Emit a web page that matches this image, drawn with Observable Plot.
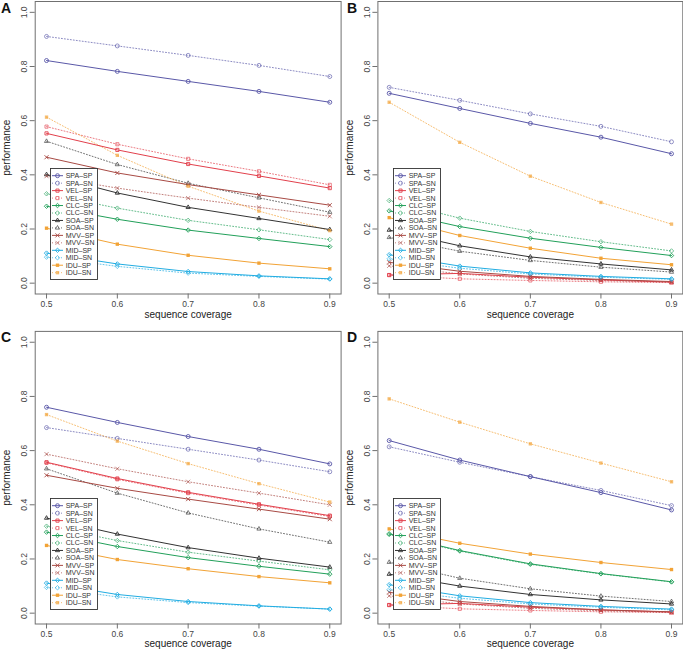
<!DOCTYPE html>
<html><head><meta charset="utf-8">
<script src="https://cdn.jsdelivr.net/npm/d3@7"></script>
<script src="https://cdn.jsdelivr.net/npm/@observablehq/plot@0.6"></script>
<style>
body{margin:0;background:#fff;}
#wrap{position:relative;width:683px;height:649px;overflow:hidden;font-family:"Liberation Sans",Arial,Helvetica,sans-serif;}
.panel{position:absolute;}
.letter{position:absolute;font-weight:bold;font-size:14px;line-height:14px;color:#111;}
.legend{position:absolute;}
</style></head><body><div id="wrap"></div>
<script>
const coverage = [0.5, 0.6, 0.7, 0.8, 0.9];
const methods = ["SPA", "VEL", "CLC", "SOA", "MVV", "MID", "IDU"];
const measures = ["SP", "SN"];
const methodColors = ["#5a58a8", "#e2404c", "#22a05a", "#333333", "#a84a44", "#22ade2", "#f2a336"];
const methodSymbols = ["circle", "square2", "diamond2", "triangle2", "times", "diamond2", "square"];
const yTicks = [0, 0.2, 0.4, 0.6, 0.8, 1.0];
const xTicks = [0.5, 0.6, 0.7, 0.8, 0.9];
const panelLabels = ["A", "B", "C", "D"];
const xTitle = "sequence coverage";
const yTitle = "performance";

// rows follow methods order: SPA, VEL, CLC, SOA, MVV, MID, IDU
const A_SP = [
  [0.822, 0.782, 0.745, 0.708, 0.668],
  [0.553, 0.492, 0.440, 0.396, 0.351],
  [0.284, 0.236, 0.196, 0.165, 0.135],
  [0.401, 0.333, 0.280, 0.239, 0.198],
  [0.465, 0.407, 0.364, 0.326, 0.288],
  [0.111, 0.071, 0.043, 0.027, 0.016],
  [0.203, 0.144, 0.103, 0.074, 0.053]
];
const A_SN = [
  [0.911, 0.876, 0.841, 0.804, 0.763],
  [0.578, 0.513, 0.459, 0.413, 0.363],
  [0.330, 0.277, 0.232, 0.197, 0.161],
  [0.524, 0.438, 0.369, 0.315, 0.262],
  [0.395, 0.351, 0.314, 0.280, 0.247],
  [0.096, 0.062, 0.037, 0.025, 0.015],
  [0.613, 0.472, 0.358, 0.266, 0.194]
];
const B_SP = [
  [0.701, 0.645, 0.590, 0.539, 0.478],
  [0.030, 0.036, 0.022, 0.012, 0.004],
  [0.267, 0.209, 0.166, 0.132, 0.102],
  [0.196, 0.138, 0.097, 0.071, 0.049],
  [0.077, 0.044, 0.025, 0.014, 0.006],
  [0.105, 0.063, 0.038, 0.025, 0.016],
  [0.242, 0.176, 0.129, 0.092, 0.068]
];
const B_SN = [
  [0.723, 0.675, 0.625, 0.579, 0.522],
  [0.030, 0.016, 0.010, 0.005, 0.002],
  [0.305, 0.240, 0.191, 0.153, 0.119],
  [0.169, 0.118, 0.084, 0.059, 0.041],
  [0.064, 0.034, 0.018, 0.010, 0.004],
  [0.090, 0.055, 0.034, 0.022, 0.014],
  [0.668, 0.520, 0.395, 0.298, 0.218]
];
const C_SP = [
  [0.760, 0.704, 0.652, 0.605, 0.551],
  [0.557, 0.497, 0.446, 0.402, 0.360],
  [0.299, 0.246, 0.205, 0.173, 0.144],
  [0.351, 0.292, 0.242, 0.203, 0.170],
  [0.509, 0.461, 0.421, 0.384, 0.347],
  [0.111, 0.069, 0.043, 0.027, 0.015],
  [0.250, 0.198, 0.164, 0.135, 0.112]
];
const C_SN = [
  [0.685, 0.645, 0.605, 0.565, 0.522],
  [0.555, 0.494, 0.443, 0.399, 0.357],
  [0.321, 0.268, 0.225, 0.192, 0.160],
  [0.533, 0.443, 0.370, 0.311, 0.262],
  [0.587, 0.533, 0.485, 0.443, 0.400],
  [0.095, 0.060, 0.039, 0.026, 0.015],
  [0.733, 0.635, 0.552, 0.478, 0.410]
];
const D_SP = [
  [0.637, 0.565, 0.504, 0.445, 0.381],
  [0.030, 0.036, 0.022, 0.012, 0.004],
  [0.293, 0.231, 0.182, 0.146, 0.116],
  [0.144, 0.100, 0.069, 0.049, 0.034],
  [0.077, 0.043, 0.025, 0.012, 0.005],
  [0.105, 0.064, 0.039, 0.025, 0.015],
  [0.311, 0.258, 0.218, 0.187, 0.161]
];
const D_SN = [
  [0.614, 0.557, 0.504, 0.453, 0.397],
  [0.030, 0.016, 0.010, 0.005, 0.002],
  [0.290, 0.229, 0.180, 0.145, 0.115],
  [0.188, 0.129, 0.090, 0.063, 0.043],
  [0.064, 0.034, 0.018, 0.009, 0.003],
  [0.087, 0.055, 0.034, 0.022, 0.012],
  [0.791, 0.705, 0.625, 0.554, 0.485]
];

const panelData = [[A_SP, A_SN], [B_SP, B_SN], [C_SP, C_SN], [D_SP, D_SN]];

function toRows(sp, sn) {
  const out = [];
  methods.forEach((m, i) => {
    coverage.forEach((c, j) => {
      out.push({method: m, measure: "SP", x: c, y: sp[i][j]});
      out.push({method: m, measure: "SN", x: c, y: sn[i][j]});
    });
  });
  return out;
}

const layout = [
  {left: 0,   top: 0,   width: 342, height: 320, mt: 1,    mb: 26.5, ml: 34.7, mr: 1.4, xlab: 23.5},
  {left: 342, top: 0,   width: 341, height: 320, mt: 1,    mb: 26.5, ml: 35.4, mr: 0.7, xlab: 23.5},
  {left: 0,   top: 320, width: 342, height: 329, mt: 10.9, mb: 25.5, ml: 34.7, mr: 1.4, xlab: 22.5},
  {left: 342, top: 320, width: 341, height: 329, mt: 10.9, mb: 25.5, ml: 35.4, mr: 0.7, xlab: 22.5}
];

const wrap = document.getElementById("wrap");
const fmt = d3.format(".1f");
const boxGray = "#707070";
const d3Symbols = {circle: d3.symbolCircle, square2: d3.symbolSquare2, diamond2: d3.symbolDiamond2,
  triangle2: d3.symbolTriangle2, times: d3.symbolTimes, square: d3.symbolSquare};
const dotR = 2.0;
const snOpacity = 0.7;
const snDash = "1,2";

layout.forEach((L, p) => {
  const data = toRows(panelData[p][0], panelData[p][1]);
  const sp = data.filter(d => d.measure === "SP");
  const sn = data.filter(d => d.measure === "SN");
  const openPts = data.filter(d => d.method !== "IDU");
  const filledPts = data.filter(d => d.method === "IDU");
  const chart = Plot.plot({
    width: L.width, height: L.height,
    marginTop: L.mt, marginBottom: L.mb, marginLeft: L.ml, marginRight: L.mr,
    style: {fontFamily: '"Liberation Sans", Arial, Helvetica, sans-serif', fontSize: "8px", color: "#333", background: "transparent", overflow: "visible"},
    x: {domain: [0.484, 0.916]},
    y: {domain: [-0.04, 1.04]},
    color: {domain: methods, range: methodColors},
    symbol: {domain: methods, range: methodSymbols},
    marks: [
      Plot.frame({stroke: boxGray}),
      Plot.axisY({ticks: yTicks, tickFormat: fmt, tickRotate: -90, tickSize: 5, tickPadding: 3, label: null, stroke: boxGray, fill: "#444", fontSize: 8.5}),
      Plot.axisY({ticks: [], tickSize: 0, label: yTitle, labelAnchor: "center", labelArrow: "none", labelOffset: 32, fontSize: 10, fill: "#222"}),
      Plot.axisX({ticks: xTicks, tickFormat: fmt, tickSize: 5, tickPadding: 2, label: null, stroke: boxGray, fill: "#444", fontSize: 8.5}),
      Plot.axisX({ticks: [], tickSize: 0, label: xTitle, labelAnchor: "center", labelArrow: "none", labelOffset: L.xlab, fontSize: 10, fill: "#222"}),
      Plot.line(sn, {x: "x", y: "y", z: "method", stroke: "method", strokeWidth: 1, strokeDasharray: snDash, strokeOpacity: snOpacity}),
      Plot.line(sp, {x: "x", y: "y", z: "method", stroke: "method", strokeWidth: 1}),
      Plot.dot(openPts, {x: "x", y: "y", stroke: "method", symbol: "method", r: dotR, fill: "none", strokeWidth: 0.9,
        strokeOpacity: d => d.measure === "SN" ? snOpacity : 1}),
      Plot.dot(filledPts, {x: "x", y: "y", fill: "method", symbol: "method", r: dotR * 0.95, stroke: "none",
        fillOpacity: d => d.measure === "SN" ? snOpacity : 1})
    ]
  });
  const div = document.createElement("div");
  div.className = "panel";
  div.style.left = L.left + "px";
  div.style.top = L.top + "px";
  div.appendChild(chart);
  wrap.appendChild(div);

  // panel letter
  const letter = document.createElement("div");
  letter.className = "letter";
  letter.textContent = panelLabels[p];
  letter.style.left = (L.left + (p % 2 ? 5 : 1)) + "px";
  letter.style.top = (L.top + (p < 2 ? 1 : 10)) + "px";
  wrap.appendChild(letter);

  // legend
  const legW = 47, legH = 111, step = 7.46;
  const leg = d3.create("svg").attr("class", "legend").attr("width", legW + 1).attr("height", legH + 1)
    .style("left", (L.left + L.ml + 15.3) + "px")
    .style("top", (L.top + L.mt + 167) + "px");
  leg.append("rect").attr("x", 0.5).attr("y", 0.5).attr("width", legW).attr("height", legH)
    .attr("fill", "#fff").attr("stroke", "#333").attr("stroke-width", 0.9);
  let k = 0;
  methods.forEach((m, i) => {
    measures.forEach(meas => {
      const y = 7.7 + k * step;
      const isSN = meas === "SN";
      const g = leg.append("g").attr("transform", `translate(0,${y})`);
      g.append("line").attr("x1", 2).attr("x2", 13).attr("y1", 0).attr("y2", 0)
        .attr("stroke", methodColors[i]).attr("stroke-width", 1)
        .attr("stroke-dasharray", isSN ? snDash : null).attr("stroke-opacity", isSN ? snOpacity : 1);
      const symType = d3Symbols[methodSymbols[i]];
      const filled = m === "IDU";
      const r = filled ? dotR * 0.95 : dotR;
      g.append("path").attr("transform", "translate(7.5,0)")
        .attr("d", d3.symbol(symType, Math.PI * r * r)())
        .attr("fill", filled ? methodColors[i] : "none")
        .attr("stroke", filled ? "none" : methodColors[i])
        .attr("stroke-width", 0.9)
        .attr("opacity", isSN ? snOpacity : 1);
      g.append("text").attr("x", 15.7).attr("y", 0).attr("dy", "0.35em")
        .attr("font-size", 7).attr("fill", "#333")
        .attr("font-family", '"Liberation Sans", Arial, sans-serif')
        .text(`${m}\u2013${meas}`);
      k++;
    });
  });
  wrap.appendChild(leg.node());
});
</script>
</body></html>
